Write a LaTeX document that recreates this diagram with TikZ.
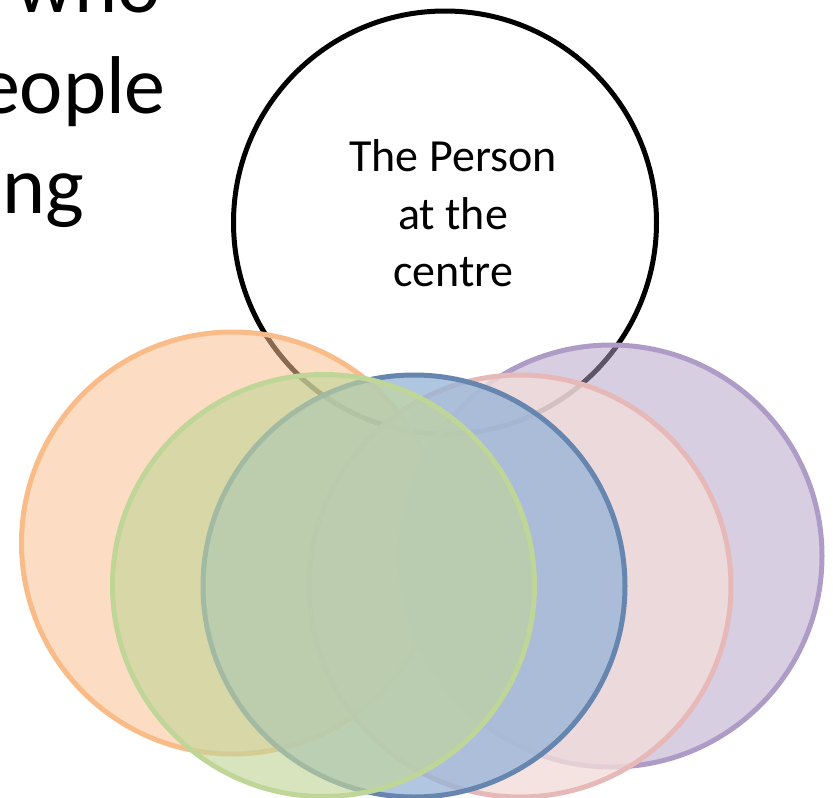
\documentclass[tikz,border=0pt]{standalone}
\usepackage{fontspec}
\setmainfont{Carlito}
\definecolor{orangeF}{HTML}{FAC090}
\definecolor{orangeD}{HTML}{F9BB88}
\definecolor{purpleF}{HTML}{B3A2C7}
\definecolor{purpleD}{HTML}{AE9CC6}
\definecolor{pinkF}{HTML}{F2DCDB}
\definecolor{pinkD}{HTML}{E6B9B8}
\definecolor{blueF}{HTML}{95B3D7}
\definecolor{blueD}{HTML}{6686AF}
\definecolor{greenF}{HTML}{C3D69B}
\definecolor{greenD}{HTML}{C0D598}
\begin{document}
\begin{tikzpicture}[x=1pt,y=-1pt,
  ring/.style={circle, minimum size=422pt, inner sep=0pt, line width=5pt},
  bigtext/.style={inner sep=0pt, anchor=base east, font=\fontsize{82}{100}\selectfont}]
\useasboundingbox (0,0) rectangle (833,798);
\clip (0,0) rectangle (833,798);
% partial text at top left
\node[bigtext] (t1) at (161,12) {who};
\node[bigtext] (t2) at (166,113) {eople};
\node[bigtext] (t3) at (84,213) {ng};
% person circle
\node[ring, minimum size=423pt, draw=black, fill=white] (person) at (445,222.5) {};
\node[inner sep=0pt, align=center, font=\fontsize{46}{57.5}\selectfont] (label) at (453,213.5) {The Person\\at the\\centre};
% overlapping circles
\node[ring, draw=orangeD, fill=orangeF, fill opacity=0.55] (orange) at (232.5,543) {};
\node[ring, draw=purpleD, fill=purpleF, fill opacity=0.52] (purple) at (611,556) {};
\node[ring, draw=pinkD, fill=pinkF, fill opacity=0.8] (pink) at (520,586) {};
\node[ring, draw=blueD, fill=blueF, fill opacity=0.75] (blue) at (414,586) {};
\node[ring, draw=greenD, fill=greenF, fill opacity=0.65] (green) at (323.5,585.5) {};
\end{tikzpicture}
\end{document}
